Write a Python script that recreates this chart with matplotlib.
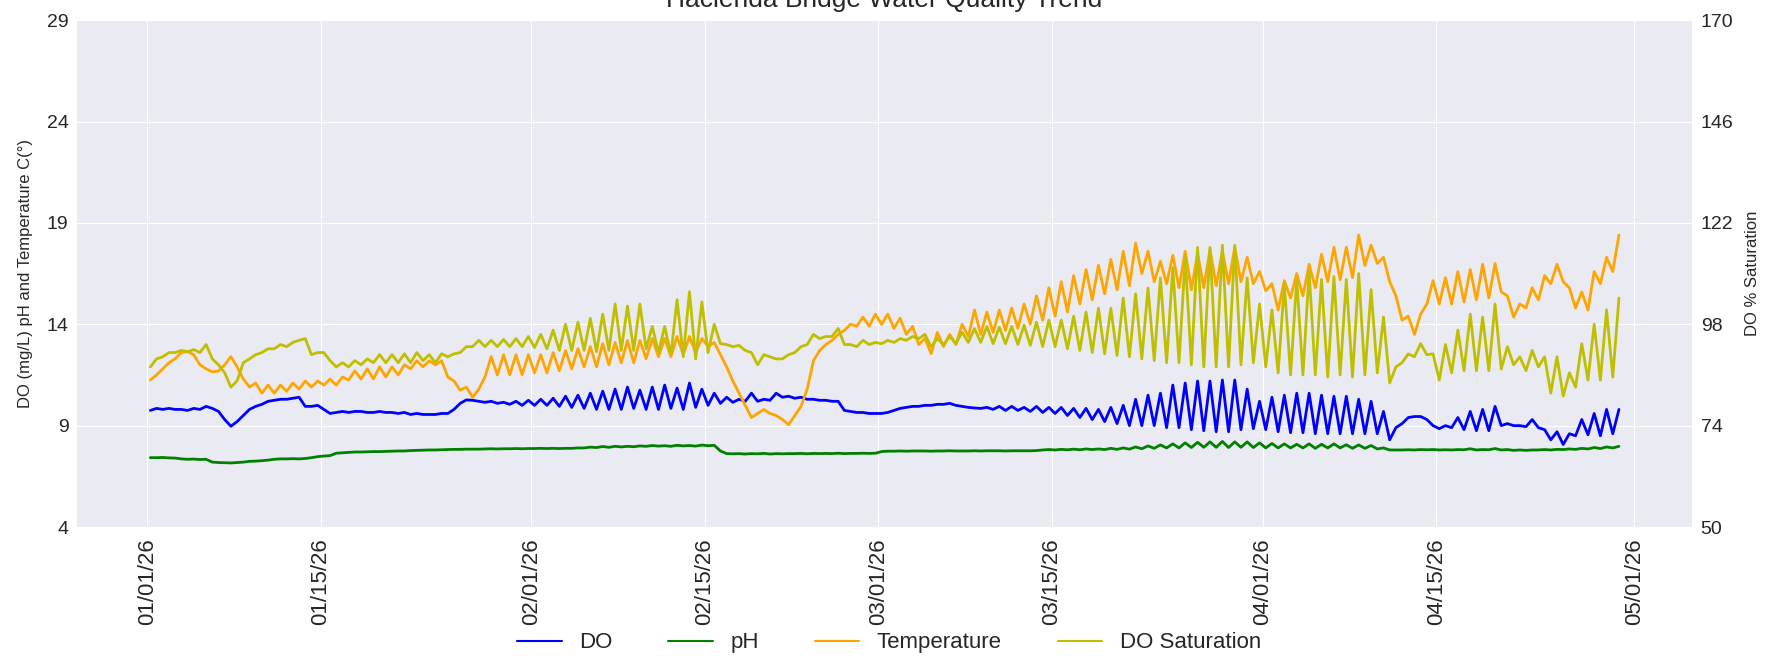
import numpy as np
import pandas as pd
import matplotlib
matplotlib.use("Agg")
import matplotlib.pyplot as plt
import matplotlib.dates as mdates

# readings every 12 h (early morning low / afternoon high), 01/01/26 - 04/29/26
do_mgl = [
    9.75, 9.85, 9.8, 9.85, 9.8, 9.8, 9.75, 9.85, 9.8, 9.95, 9.85, 9.7, 9.3, 8.97,
    9.2, 9.5, 9.8, 9.95, 10.05, 10.2, 10.25, 10.3, 10.3, 10.35, 10.4, 9.95, 9.95, 10.0,
    9.8, 9.6, 9.65, 9.7, 9.65, 9.7, 9.7, 9.65, 9.65, 9.7, 9.65, 9.65, 9.6, 9.65,
    9.55, 9.6, 9.55, 9.55, 9.55, 9.6, 9.6, 9.8, 10.1, 10.27, 10.25, 10.2, 10.15, 10.2,
    10.1, 10.15, 10.05, 10.2, 10.0, 10.25, 10.0, 10.3, 10.0, 10.35, 9.95, 10.45, 9.9, 10.5,
    9.85, 10.6, 9.8, 10.7, 9.8, 10.8, 9.8, 10.9, 9.85, 10.75, 9.8, 10.9, 9.8, 11.0,
    9.85, 10.85, 9.8, 11.1, 9.9, 10.8, 10.0, 10.6, 10.1, 10.4, 10.15, 10.3, 10.2, 10.6,
    10.2, 10.3, 10.25, 10.6, 10.4, 10.45, 10.35, 10.4, 10.3, 10.3, 10.25, 10.25, 10.2, 10.2,
    9.75, 9.7, 9.65, 9.65, 9.6, 9.6, 9.6, 9.65, 9.75, 9.85, 9.9, 9.95, 9.95, 10.0,
    10.0, 10.05, 10.05, 10.1, 10.0, 9.95, 9.9, 9.87, 9.85, 9.9, 9.8, 9.95, 9.75, 9.95,
    9.75, 9.9, 9.7, 9.95, 9.65, 9.9, 9.6, 9.9, 9.5, 9.85, 9.4, 9.85, 9.3, 9.8,
    9.2, 9.9, 9.1, 10.0, 9.0, 10.3, 9.0, 10.5, 9.0, 10.6, 8.9, 11.0, 8.9, 11.1,
    8.8, 11.2, 8.75, 11.2, 8.7, 11.25, 8.7, 11.25, 8.8, 10.8, 8.85, 10.2, 8.8, 10.4,
    8.7, 10.5, 8.65, 10.6, 8.65, 10.6, 8.6, 10.5, 8.6, 10.45, 8.6, 10.45, 8.6, 10.3,
    8.6, 10.2, 8.6, 9.7, 8.3, 8.9, 9.1, 9.4, 9.45, 9.45, 9.3, 9.0, 8.85, 9.0,
    8.9, 9.4, 8.8, 9.7, 8.75, 9.8, 8.75, 9.95, 9.0, 9.1, 9.0, 9.0, 8.95, 9.3,
    8.9, 8.8, 8.3, 8.7, 8.07, 8.6, 8.5, 9.3, 8.55, 9.6, 8.5, 9.8, 8.6, 9.8,
]

ph = [
    7.42, 7.42, 7.43, 7.41, 7.4, 7.36, 7.34, 7.35, 7.33, 7.34, 7.2, 7.18, 7.17, 7.16,
    7.18, 7.2, 7.24, 7.25, 7.27, 7.3, 7.34, 7.36, 7.36, 7.37, 7.36, 7.38, 7.42, 7.47,
    7.5, 7.52, 7.64, 7.66, 7.68, 7.7, 7.7, 7.71, 7.72, 7.72, 7.73, 7.74, 7.75, 7.75,
    7.77, 7.78, 7.79, 7.8, 7.8, 7.81, 7.82, 7.83, 7.83, 7.84, 7.84, 7.84, 7.85, 7.86,
    7.85, 7.86, 7.86, 7.87, 7.86, 7.87, 7.87, 7.88, 7.87, 7.88, 7.87, 7.88, 7.88, 7.9,
    7.9, 7.94, 7.92, 7.97, 7.93, 7.98, 7.95, 7.98, 7.96, 8.0, 7.98, 8.02, 7.99, 8.01,
    7.98, 8.03, 8.0, 8.02, 7.99, 8.04, 8.01, 8.03, 7.75, 7.62, 7.61, 7.62, 7.6, 7.62,
    7.61, 7.63, 7.6, 7.62, 7.61, 7.62, 7.62, 7.63, 7.61, 7.63, 7.62, 7.63, 7.62, 7.64,
    7.62, 7.63, 7.63, 7.64, 7.63, 7.64, 7.72, 7.74, 7.74, 7.75, 7.74, 7.75, 7.75, 7.75,
    7.74, 7.75, 7.75, 7.76, 7.75, 7.75, 7.75, 7.76, 7.75, 7.76, 7.76, 7.76, 7.75, 7.76,
    7.76, 7.76, 7.76, 7.77, 7.8, 7.82, 7.8, 7.83, 7.81, 7.84, 7.81, 7.85, 7.82, 7.85,
    7.82, 7.88, 7.83, 7.9, 7.84, 7.95, 7.86, 8.0, 7.88, 8.05, 7.9, 8.1, 7.9, 8.15,
    7.92, 8.18, 7.93, 8.2, 7.93, 8.22, 7.92, 8.2, 7.93, 8.2, 7.92, 8.15, 7.9, 8.12,
    7.9, 8.1, 7.9, 8.08, 7.9, 8.1, 7.88, 8.08, 7.9, 8.1, 7.9, 8.06, 7.88, 8.05,
    7.88, 8.02, 7.85, 7.9, 7.8, 7.8, 7.8, 7.81, 7.8, 7.82, 7.81, 7.82, 7.8, 7.81,
    7.8, 7.82, 7.81, 7.86, 7.8, 7.82, 7.81, 7.87, 7.8, 7.82, 7.78, 7.8, 7.78, 7.8,
    7.8, 7.82, 7.8, 7.83, 7.82, 7.85, 7.83, 7.88, 7.85, 7.92, 7.87, 7.95, 7.9, 7.98,
]

temp_c = [
    11.25, 11.5, 11.8, 12.1, 12.3, 12.6, 12.65, 12.5, 12.0, 11.8, 11.65, 11.7, 12.0, 12.4,
    11.9, 11.3, 10.9, 11.1, 10.6, 11.0, 10.6, 11.0, 10.7, 11.1, 10.8, 11.2, 10.9, 11.2,
    11.0, 11.3, 11.0, 11.4, 11.25, 11.7, 11.3, 11.8, 11.3, 11.9, 11.4, 11.9, 11.5, 12.0,
    11.8, 12.2, 11.9, 12.2, 12.0, 12.2, 11.4, 11.2, 10.75, 10.9, 10.4, 10.8, 11.4, 12.4,
    11.5, 12.5, 11.5, 12.5, 11.5, 12.5, 11.6, 12.5, 11.6, 12.6, 11.7, 12.7, 11.8, 12.8,
    11.9, 12.9, 11.9, 13.05, 12.0, 13.1, 12.1, 13.2, 12.1, 13.2, 12.3, 13.3, 12.4, 13.3,
    12.4, 13.4, 12.5, 13.4, 12.6, 13.3, 12.9, 13.1, 12.5, 11.9, 11.2, 10.6, 10.0, 9.4,
    9.6, 9.8, 9.6, 9.5, 9.3, 9.05, 9.5, 9.95, 10.8, 12.2, 12.7, 13.0, 13.2, 13.5,
    13.7, 14.0, 13.9, 14.35, 13.9, 14.5, 14.0, 14.5, 13.8, 14.3, 13.5, 13.9, 13.0, 13.3,
    12.55, 13.6, 12.9, 13.5, 13.0, 14.0, 13.4, 14.7, 13.5, 14.6, 13.6, 14.7, 13.7, 14.8,
    13.8, 15.0, 14.0, 15.4, 14.2, 15.8, 14.4, 16.1, 14.6, 16.4, 15.0, 16.7, 15.2, 16.9,
    15.5, 17.2, 15.7, 17.6, 15.9, 18.0, 16.5, 17.6, 16.1, 17.1, 16.0, 17.4, 15.8, 17.6,
    15.7, 17.5, 15.8, 17.7, 15.9, 17.6, 16.0, 17.8, 16.1, 17.3, 16.0, 16.6, 15.65, 16.0,
    14.7, 16.15, 15.3, 16.5, 15.4, 16.96, 15.8, 17.45, 16.1, 17.8, 16.2, 17.8, 16.3, 18.4,
    16.9, 17.9, 17.0, 17.3, 16.1, 15.4, 14.2, 14.4, 13.5, 14.5, 15.0, 16.15, 15.0, 16.3,
    15.0, 16.6, 15.1, 16.7, 15.2, 16.96, 15.3, 17.0, 15.6, 15.4, 14.35, 15.0, 14.8, 15.8,
    15.2, 16.4, 16.0, 16.96, 16.1, 15.8, 14.8, 15.6, 14.7, 16.6, 16.0, 17.3, 16.6, 18.4,
]

do_sat = [
    87.9, 89.8, 90.3, 91.3, 91.3, 91.8, 91.5, 92.0, 91.3, 93.2, 89.8, 88.4, 86.5, 83.1,
    84.6, 88.9, 89.8, 90.8, 91.3, 92.2, 92.2, 93.2, 92.7, 93.7, 94.2, 94.6, 90.8, 91.3,
    91.3, 89.4, 87.9, 88.9, 87.9, 89.4, 88.4, 89.8, 88.9, 90.8, 88.9, 90.8, 88.9, 91.0,
    88.9, 91.3, 89.4, 90.8, 88.9, 91.0, 90.3, 91.0, 91.3, 92.7, 92.7, 94.2, 92.7, 94.2,
    92.7, 94.4, 92.7, 94.6, 92.7, 95.1, 92.5, 95.6, 92.2, 96.6, 91.8, 98.0, 91.8, 98.5,
    91.8, 99.4, 91.5, 100.4, 91.8, 102.8, 91.8, 102.3, 91.8, 102.8, 92.2, 97.5, 91.3, 97.5,
    90.8, 103.8, 90.3, 105.7, 89.8, 103.3, 91.3, 98.0, 93.4, 93.2, 92.7, 93.0, 91.8, 91.3,
    88.4, 90.8, 90.3, 89.8, 89.8, 90.8, 91.3, 92.7, 93.2, 95.6, 94.6, 95.1, 95.1, 97.0,
    93.2, 93.2, 92.7, 94.2, 93.2, 93.7, 93.4, 94.2, 93.7, 94.6, 94.2, 95.1, 94.6, 95.6,
    92.7, 94.6, 93.2, 95.1, 93.4, 96.1, 93.7, 97.0, 93.7, 97.5, 93.4, 97.3, 93.4, 97.5,
    93.2, 97.8, 93.0, 98.5, 92.7, 99.0, 92.7, 99.0, 92.2, 99.9, 91.8, 100.9, 91.3, 101.8,
    91.0, 101.8, 90.6, 104.2, 90.3, 105.2, 89.8, 106.6, 89.4, 109.0, 88.9, 111.4, 88.9, 113.8,
    88.4, 116.2, 87.9, 116.2, 87.9, 116.7, 87.9, 116.7, 88.4, 109.0, 88.9, 102.8, 87.9, 101.4,
    86.5, 107.6, 86.0, 108.6, 86.0, 110.5, 86.0, 108.6, 85.5, 109.3, 86.0, 108.6, 85.5, 110.0,
    86.0, 106.2, 86.5, 99.7, 84.1, 87.9, 88.9, 91.0, 90.3, 93.4, 90.8, 91.0, 84.8, 93.2,
    86.5, 96.6, 87.0, 100.4, 87.0, 99.7, 87.0, 102.8, 87.4, 92.7, 88.4, 90.3, 87.0, 91.8,
    87.9, 90.3, 81.7, 90.3, 81.0, 86.5, 83.1, 93.4, 84.8, 98.0, 84.8, 101.4, 85.5, 104.2,
]

left_ticks = [4, 9, 14, 19, 24, 29]
right_ticks = [50, 74, 98, 122, 146, 170]

times = pd.date_range("2026-01-01 06:00", periods=len(do_mgl), freq="12h")

plt.style.use("seaborn-v0_8-darkgrid")
plt.rcParams["font.family"] = ["Liberation Sans", "DejaVu Sans"]
plt.rcParams["text.color"] = "#262626"
plt.rcParams["axes.labelcolor"] = "#262626"
plt.rcParams["xtick.color"] = "#262626"
plt.rcParams["ytick.color"] = "#262626"

fig = plt.figure(figsize=(17.89, 6.6), dpi=100)
ax = fig.add_axes([0.043, 0.2015, 0.903, 0.768])
ax2 = ax.twinx()

line_kw = dict(lw=2.0, solid_joinstyle="round", solid_capstyle="round")
l1, = ax.plot(times, do_mgl, color="blue", label="DO", **line_kw)
l2, = ax.plot(times, ph, color="green", label="pH", **line_kw)
l3, = ax.plot(times, temp_c, color="orange", label="Temperature", **line_kw)
l4, = ax2.plot(times, do_sat, color="y", label="DO Saturation", **line_kw)

ax.set_ylim(4, 29)
ax.set_yticks(left_ticks)
ax2.set_ylim(50, 170)
ax2.set_yticks(right_ticks)
ax2.grid(False)

ax.xaxis.set_major_locator(mdates.DayLocator(bymonthday=[1, 15]))
ax.xaxis.set_major_formatter(mdates.DateFormatter("%m/%d/%y"))
ax.tick_params(axis="x", labelrotation=90, labelsize=16, pad=8)
ax.tick_params(axis="y", labelsize=14, pad=6)
ax2.tick_params(axis="y", labelsize=14, pad=6)

ax.set_ylabel("DO (mg/L) pH and Temperature C(°)", fontsize=12, labelpad=10)
ax2.set_ylabel("DO % Saturation", fontsize=12, labelpad=8)

fig.text(0.494, 1 - 7 / 660, "Hacienda Bridge Water Quality Trend",
         ha="center", va="baseline", fontsize=19)

legend_lines = [plt.Line2D([], [], color=l.get_color(), lw=1.5) for l in (l1, l2, l3, l4)]
fig.legend(legend_lines, ["DO", "pH", "Temperature", "DO Saturation"], loc="center",
           bbox_to_anchor=(0.497, 0.026), ncol=4, frameon=False, fontsize=16,
           columnspacing=2.5)

fig.savefig("out.png", dpi=100)
